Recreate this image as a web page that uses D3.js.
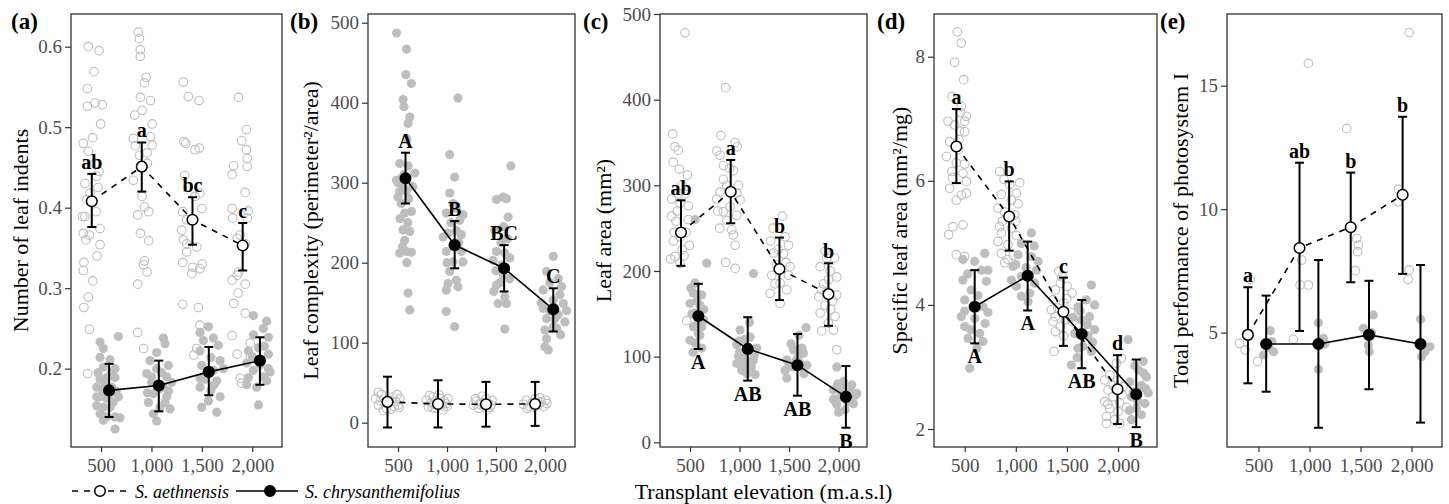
<!DOCTYPE html>
<html>
<head>
<meta charset="utf-8">
<script src="https://cdn.jsdelivr.net/npm/d3@7"></script>
<style>
  body { margin: 0; background: #fff; }
  svg text { font-family: "Liberation Serif", "Times New Roman", serif; }
</style>
</head>
<body>
<svg id="chart" width="1449" height="504"></svg>
<script>
// ---- data ----
var elevationTicks = [500, 1000, 1500, 2000];
var speciesNames = ["S. aethnensis", "S. chrysanthemifolius"];

// (a) number of leaf indents; points are [elevation, value], means are [elevation, mean, lower, upper]
var aAethPts = [
  [374,.600],[480,.595],[430,.569],[364,.548],[364,.526],[440,.530],[513,.528],[496,.504],[417,.487],[324,.480],[374,.470],[340,.430],[390,.418],[457,.439],[357,.410],[317,.389],[340,.389],[324,.368],[384,.366],[490,.374],[490,.354],[330,.332],[324,.322],[417,.309],[374,.289],[330,.276],[384,.249],[367,.194],[440,.455],[480,.445],[470,.425],[450,.395],[350,.360],[460,.340],
  [870,.618],[880,.610],[890,.596],[890,.588],[947,.562],[930,.555],[890,.537],[990,.533],[907,.521],[834,.515],[1007,.504],[820,.486],[990,.488],[1007,.478],[957,.468],[840,.477],[820,.434],[907,.414],[930,.401],[973,.395],[864,.391],[890,.368],[973,.359],[930,.334],[920,.329],[957,.320],[864,.305],[864,.245],[923,.225],[960,.455],[880,.465],
  [1316,.556],[1366,.538],[1472,.533],[1322,.482],[1340,.480],[1475,.474],[1432,.472],[1330,.440],[1366,.426],[1480,.418],[1432,.414],[1500,.399],[1310,.395],[1350,.385],[1300,.372],[1316,.360],[1450,.351],[1350,.355],[1350,.345],[1310,.332],[1410,.326],[1480,.324],[1400,.318],[1505,.330],[1310,.280],[1465,.276],[1480,.254],[1450,.225],[1420,.217],
  [1863,.537],[1942,.497],[1895,.483],[1942,.472],[1950,.461],[1950,.451],[1800,.441],[1815,.452],[1930,.419],[1800,.399],[1806,.387],[1960,.396],[1950,.387],[1880,.366],[1850,.362],[1930,.355],[1800,.310],[1850,.316],[1865,.320],[1930,.305],[1860,.294],[1815,.281],[1930,.269],[1800,.241],[1850,.218],[1980,.232],[1880,.188],[1895,.182],[1980,.215]
];
var aChrysPts = [
  [490,.233],[523,.225],[672,.240],[490,.214],[589,.211],[523,.202],[639,.200],[490,.187],[557,.189],[639,.189],[457,.177],[523,.173],[606,.177],[490,.165],[557,.163],[457,.154],[523,.152],[589,.152],[490,.144],[557,.140],[639,.140],[672,.165],[523,.136],[639,.125],[688,.139],[589,.169],[457,.165],[540,.181],[620,.158],[470,.195],[600,.195],[650,.172],
  [1118,.238],[1135,.231],[1052,.220],[986,.210],[1168,.204],[1052,.200],[953,.194],[1151,.190],[1002,.183],[1118,.178],[1200,.183],[1019,.169],[1151,.165],[970,.158],[1085,.152],[1185,.150],[1019,.144],[1052,.135],[1135,.158],[1085,.175],[1000,.190],[1100,.195],[960,.170],[1170,.172],
  [1565,.252],[1482,.245],[1615,.238],[1515,.235],[1664,.229],[1482,.222],[1590,.214],[1681,.210],[1498,.204],[1615,.198],[1530,.187],[1648,.185],[1482,.177],[1590,.173],[1681,.165],[1498,.152],[1648,.146],[1565,.160],[1482,.188],[1714,.200],[1550,.195],[1620,.180],
  [2143,.259],[2110,.250],[2011,.266],[2160,.239],[2011,.242],[2061,.226],[1962,.222],[2160,.218],[2044,.211],[1945,.207],[2160,.200],[2011,.198],[2110,.190],[1962,.189],[2143,.185],[2044,.177],[1945,.180],[2061,.155],[2177,.196],[2080,.205],[2000,.215],[2120,.228]
];
var aAethMean = [[408,.408,.376,.442],[904,.451,.420,.481],[1407,.385,.354,.413],[1905,.353,.322,.381]];
var aChrysMean = [[580,.173,.140,.206],[1073,.179,.147,.210],[1569,.196,.167,.227],[2076,.210,.180,.239]];
var aAethLetters = ["ab", "a", "bc", "c"];
var aChrysLetters = [];
var aTicksY = [0.2, 0.3, 0.4, 0.5, 0.6];

// (b) leaf complexity
var bAethPts = [
  [270,30],[300,22],[330,35],[360,25],[380,18],[410,28],[440,32],[460,20],[480,26],[500,22],[520,30],[300,38],[350,15],[430,17],[490,35],[400,24],[320,27],[510,19],
  [790,28],[810,20],[840,25],[860,32],[880,18],[900,24],[930,30],[950,21],[970,27],[990,24],[1010,30],[820,34],[870,23],[960,16],[1000,20],[920,35],[850,19],
  [1270,22],[1300,27],[1320,18],[1350,25],[1380,20],[1400,30],[1420,24],[1440,19],[1460,28],[1290,30],[1330,23],[1410,16],[1450,22],[1360,33],
  [1780,23],[1810,28],[1840,20],[1870,25],[1900,30],[1930,22],[1960,26],[1990,20],[2020,24],[1820,18],[1890,19],[1950,31],[2010,28]
];
var bChrysPts = [
  [484,487],[586,467],[580,435],[636,424],[551,404],[560,395],[620,382],[602,374],[590,355],[517,324],[602,321],[671,312],[484,303],[551,297],[517,289],[586,290],[500,282],[534,274],[636,264],[568,262],[551,241],[620,239],[568,228],[586,214],[517,212],[636,213],[602,162],[620,141],[500,300],[560,310],[530,305],[610,280],[650,295],[520,255],[600,250],[545,220],[590,200],
  [1112,406],[1027,335],[1078,307],[1027,287],[1061,274],[1095,268],[1163,260],[993,262],[1129,253],[1010,237],[1095,240],[960,232],[1146,235],[993,214],[1146,214],[1061,201],[1027,189],[1010,174],[1095,178],[1112,170],[993,166],[993,139],[1078,120],[1163,201],[1060,222],[1120,225],[1040,250],[1000,200],
  [1651,321],[1505,279],[1607,280],[1573,282],[1624,257],[1488,240],[1505,214],[1590,212],[1471,203],[1556,197],[1641,206],[1573,185],[1505,172],[1478,164],[1590,157],[1522,149],[1607,149],[1590,117],[1550,225],[1620,230],[1540,175],[1640,180],[1500,190],[1580,245],
  [2085,208],[2017,189],[2136,180],[1983,166],[2170,170],[2085,153],[2187,149],[1983,143],[2136,135],[2017,130],[2204,126],[2085,120],[2000,116],[2119,118],[2017,105],[2000,95],[2034,91],[2153,160],[2221,140],[2050,140],[2100,130],[1960,150],[2160,110],[2050,175]
];
var bAethMean = [[392,26,-6,57.5],[908,23.4,-6,53],[1398,23,-5,51],[1900,23.4,-4,51]];
var bChrysMean = [[576,305.5,274,337.5],[1078,222,193,252],[1583,193,164,222],[2085,141.7,114,168]];
var bAethLetters = [];
var bChrysLetters = ["A", "B", "BC", "C"];
var bTicksY = [0, 100, 200, 300, 400, 500];

// (c) leaf area
var cAethPts = [
  [449,478],[325,360],[348,345],[382,341],[331,327],[392,319],[473,312],[315,284],[399,279],[483,276],[315,264],[358,258],[483,260],[331,235],[493,230],[348,217],[399,209],[305,214],[440,218],[467,142],[420,300],[380,290],[460,245],[340,245],[420,225],[370,270],[450,290],[400,240],
  [859,414],[811,358],[955,350],[978,345],[770,340],[803,335],[837,323],[938,317],[837,307],[871,300],[972,291],[803,292],[770,284],[1005,283],[904,275],[837,269],[972,265],[871,259],[921,248],[938,242],[955,230],[955,203],[860,210],[800,250],[900,320],[990,300],[780,270],
  [1433,264],[1315,235],[1494,230],[1342,221],[1443,220],[1376,207],[1511,205],[1326,195],[1410,186],[1477,178],[1309,174],[1410,162],[1494,195],[1359,185],[1460,240],[1340,250],[1390,225],[1470,210],
  [1864,223],[1814,205],[1982,193],[1898,190],[1831,178],[1982,172],[1864,160],[1814,151],[1965,147],[1898,139],[1948,131],[1982,108],[1881,215],[1915,200],[1850,185],[1940,165],[1830,130],[1960,215],[1800,170],[1920,155]
];
var cChrysPts = [
  [551,186],[534,174],[618,172],[500,162],[601,160],[551,151],[635,143],[534,135],[584,127],[500,119],[551,116],[618,110],[668,209],[551,260],[580,140],[520,150],[600,125],[640,155],[510,180],[570,165],[620,135],[530,105],
  [1140,197],[1005,131],[1106,123],[972,114],[1073,108],[1174,110],[989,100],[1140,96],[1039,90],[972,92],[1073,80],[1157,79],[1022,84],[1100,140],[1050,120],[1000,105],[1120,88],[1040,100],[1080,95],[990,118],[1150,102],
  [1672,134],[1544,108],[1645,104],[1477,96],[1595,100],[1679,90],[1460,84],[1544,88],[1477,75],[1611,92],[1520,115],[1600,125],[1650,80],[1500,90],[1570,95],[1630,110],
  [1982,88],[2049,71],[2133,67],[1948,61],[2184,57],[2016,53],[2100,47],[1982,44],[2066,38],[2167,55],[1948,50],[2030,62],[2120,58],[1990,68],[2080,50],[2150,45],[2000,35],[2100,65]
];
var cAethMean = [[409,245,206,282.5],[911,292.5,255.7,329.6],[1403,202.3,166,239],[1898,173,136,209]];
var cChrysMean = [[584,147.4,109,185],[1083,109,72,146],[1585,90,54.4,126.4],[2074,53,17,89]];
var cAethLetters = ["ab", "a", "b", "b"];
var cChrysLetters = ["A", "AB", "AB", "B"];
var cTicksY = [0, 100, 200, 300, 400, 500];

// (d) specific leaf area
var dAethPts = [
  [428,8.40],[467,8.22],[402,7.91],[490,7.63],[376,7.36],[467,7.20],[516,7.04],[337,6.96],[500,6.96],[402,6.90],[450,6.80],[500,6.79],[353,6.63],[444,6.66],[321,6.39],[418,6.29],[500,6.27],[376,6.15],[483,6.12],[516,5.99],[353,5.88],[467,5.77],[418,5.69],[516,5.80],[385,5.26],[483,5.29],[343,5.13],[418,4.81],[500,4.78],[440,6.50],[380,6.05],[460,7.10],
  [842,6.15],[885,6.02],[1038,5.97],[940,5.94],[1006,5.80],[859,5.78],[957,5.69],[1022,5.63],[826,5.56],[891,5.50],[990,5.45],[842,5.26],[957,5.24],[859,5.16],[1006,5.12],[826,5.02],[924,4.97],[859,4.83],[924,4.73],[891,4.68],[973,4.80],[1000,5.35],[870,5.35],
  [1420,4.54],[1436,4.35],[1501,4.30],[1387,4.24],[1550,4.19],[1364,4.08],[1468,4.03],[1348,3.92],[1534,3.88],[1387,3.81],[1485,3.76],[1364,3.73],[1436,3.65],[1550,3.73],[1387,3.57],[1374,3.25],[1468,3.50],[1500,4.10],[1410,3.95],[1450,4.45],
  [2033,3.14],[1984,3.06],[1919,2.87],[1870,2.79],[2000,2.78],[2049,2.68],[1903,2.63],[1952,2.52],[1870,2.44],[2017,2.42],[1919,2.33],[2000,2.28],[1886,2.20],[1968,2.15],[1886,2.09],[2017,2.09],[2082,2.35],[1950,2.70],[1900,2.40],[2040,2.55]
];
var dChrysPts = [
  [696,4.83],[483,4.73],[598,4.70],[663,4.56],[483,4.40],[712,4.38],[565,4.24],[500,4.08],[679,3.97],[467,3.81],[598,3.78],[728,3.88],[500,3.65],[647,3.54],[533,3.46],[679,3.41],[549,2.98],[500,3.90],[631,4.15],[728,4.56],[560,3.60],[620,3.30],[700,3.70],[530,4.50],
  [1152,5.16],[1054,4.99],[1022,4.81],[1152,4.78],[973,4.62],[1201,4.56],[1054,4.46],[1185,4.35],[1006,4.30],[1136,4.19],[1054,4.14],[1218,4.70],[957,4.40],[1100,4.60],[1180,4.95],[1000,4.65],[1120,4.05],
  [1739,4.32],[1690,4.08],[1771,4.00],[1608,3.97],[1722,3.81],[1641,3.76],[1771,3.60],[1576,3.54],[1706,3.50],[1657,3.33],[1543,3.03],[1739,3.25],[1608,3.30],[1560,3.80],[1700,3.68],[1630,3.90],[1750,3.40],[1600,3.15],
  [2098,3.44],[2246,3.09],[2164,3.02],[2278,2.84],[2115,2.76],[2229,2.70],[2295,2.58],[2131,2.52],[2262,2.41],[2180,2.33],[2229,2.23],[2131,2.15],[2200,2.95],[2150,2.60],[2250,2.90],[2110,2.30],[2270,2.65],[2190,2.45]
];
var dAethMean = [[419,6.553,5.963,7.156],[935,5.424,4.875,5.99],[1466,3.89,3.34,4.44],[1995,2.64,2.08,3.19]];
var dChrysMean = [[598,3.97,3.38,4.56],[1116,4.47,3.91,5.02],[1645,3.53,2.98,4.08],[2178,2.56,2.03,3.12]];
var dAethLetters = ["a", "b", "c", "d"];
var dChrysLetters = ["A", "A", "AB", "B"];
var dTicksY = [2, 4, 6, 8];

// (e) total performance of photosystem I
var eAethPts = [
  [419,7.16],[314,4.57],[370,4.30],[490,3.83],
  [989,15.9],[924,7.94],[908,6.93],[989,6.93],[842,4.73],
  [1365,13.27],[1463,8.82],[1479,8.55],[1473,8.28],[1450,7.51],
  [1977,17.15],[1870,10.81],[1870,10.30],[1977,7.54],[1967,7.16]
];
var eChrysPts = [
  [614,5.08],[631,4.64],[647,4.23],[549,4.10],[598,4.40],
  [1087,5.40],[1136,4.77],[1152,4.55],[1087,3.52],
  [1625,5.72],[1527,5.18],[1576,4.50],[1586,4.23],[1608,5.00],
  [2089,5.54],[2180,4.43],[2131,4.23],[2099,4.03]
];
var eAethMean = [[396,4.91,2.95,6.84],[902,8.43,5.07,11.88],[1404,9.27,7.04,11.48],[1913,10.58,7.38,13.74]];
var eChrysMean = [[575,4.54,2.61,6.5],[1087,4.54,1.15,7.94],[1583,4.91,2.71,7.1],[2088,4.54,1.36,7.74]];
var eAethLetters = ["a", "ab", "b", "b"];
var eChrysLetters = [];
var eTicksY = [5, 10, 15];

// ---- panel layout ----
var panels = [
  { tag: "(a)", title: "Number of leaf indents", left: 71, right: 282, xDom: [202, 2295], yDom: [0.1027, 0.6406],
    ticks: aTicksY, fmt: d3.format(".1f"), aeth: aAethPts, chrys: aChrysPts, aethMean: aAethMean, chrysMean: aChrysMean,
    aethLet: aAethLetters, chrysLet: aChrysLetters, chrysBelow: false, titleX: 28, tagX: 11 },
  { tag: "(b)", title: "Leaf complexity (perimeter\u00b2/area)", left: 368, right: 575, xDom: [193, 2307], yDom: [-30.4, 510.9],
    ticks: bTicksY, fmt: d3.format("d"), aeth: bAethPts, chrys: bChrysPts, aethMean: bAethMean, chrysMean: bChrysMean,
    aethLet: bAethLetters, chrysLet: bChrysLetters, chrysBelow: false, titleX: 318, tagX: 290 },
  { tag: "(c)", title: "Leaf area (mm\u00b2)", left: 660, right: 867, xDom: [197, 2287], yDom: [-5.5, 500],
    ticks: cTicksY, fmt: d3.format("d"), aeth: cAethPts, chrys: cChrysPts, aethMean: cAethMean, chrysMean: cChrysMean,
    aethLet: cAethLetters, chrysLet: cChrysLetters, chrysBelow: true, titleX: 611, tagX: 583 },
  { tag: "(d)", title: "Specific leaf area (mm\u00b2/mg)", left: 934, right: 1157, xDom: [200, 2381], yDom: [1.71, 8.688],
    ticks: dTicksY, fmt: d3.format("d"), aeth: dAethPts, chrys: dChrysPts, aethMean: dAethMean, chrysMean: dChrysMean,
    aethLet: dAethLetters, chrysLet: dChrysLetters, chrysBelow: true, titleX: 907, tagX: 877 },
  { tag: "(e)", title: "Total performance of photosystem I", left: 1227, right: 1442, xDom: [191, 2299], yDom: [0.372, 17.9],
    ticks: eTicksY, fmt: d3.format("d"), aeth: eAethPts, chrys: eChrysPts, aethMean: eAethMean, chrysMean: eChrysMean,
    aethLet: eAethLetters, chrysLet: eChrysLetters, chrysBelow: false, titleX: 1188, tagX: 1160 }
];

var plotTop = 14, plotBottom = 447;
var grey = "#bebebe", tickGrey = "#4d4d4d";
var svg = d3.select("#chart");

panels.forEach(function(p) {
  var x = d3.scaleLinear().domain(p.xDom).range([p.left, p.right]);
  var y = d3.scaleLinear().domain(p.yDom).range([plotBottom, plotTop]);
  var g = svg.append("g");

  // axes
  var xAxis = d3.axisBottom(x).tickValues(elevationTicks).tickFormat(d3.format(",")).tickSize(5).tickPadding(7);
  var yAxis = d3.axisLeft(y).tickValues(p.ticks).tickFormat(p.fmt).tickSize(6).tickPadding(3);
  g.append("g").attr("transform", "translate(0," + plotBottom + ")").call(xAxis);
  g.append("g").attr("transform", "translate(" + p.left + ",0)").call(yAxis);
  g.selectAll(".domain").remove();
  g.selectAll(".tick line").attr("stroke", "#333").attr("stroke-width", 1.2);
  g.selectAll(".tick text").attr("fill", tickGrey).style("font-size", "19px")
    .style("font-family", "'Liberation Serif', 'Times New Roman', serif");

  // frame
  g.append("rect").attr("x", p.left).attr("y", plotTop)
    .attr("width", p.right - p.left).attr("height", plotBottom - plotTop)
    .attr("fill", "none").attr("stroke", "#333").attr("stroke-width", 1.3);

  // raw points
  g.append("g").selectAll("circle").data(p.aeth).enter().append("circle")
    .attr("cx", function(d) { return x(d[0]); })
    .attr("cy", function(d) { return y(d[1]); })
    .attr("r", 4.3).attr("fill", "none").attr("stroke", grey).attr("stroke-width", 1.1);
  g.append("g").selectAll("circle").data(p.chrys).enter().append("circle")
    .attr("cx", function(d) { return x(d[0]); })
    .attr("cy", function(d) { return y(d[1]); })
    .attr("r", 4.6).attr("fill", grey);

  // connecting lines
  var line = d3.line().x(function(d) { return x(d[0]); }).y(function(d) { return y(d[1]); });
  g.append("path").datum(p.aethMean).attr("d", line).attr("fill", "none")
    .attr("stroke", "#000").attr("stroke-width", 1.6).attr("stroke-dasharray", "6,6");
  g.append("path").datum(p.chrysMean).attr("d", line).attr("fill", "none")
    .attr("stroke", "#000").attr("stroke-width", 1.6);

  // error bars and means
  [[p.aethMean, "#fff"], [p.chrysMean, "#000"]].forEach(function(s) {
    var eb = g.append("g").selectAll("g").data(s[0]).enter().append("g");
    eb.append("line")
      .attr("x1", function(d) { return x(d[0]); }).attr("x2", function(d) { return x(d[0]); })
      .attr("y1", function(d) { return y(d[2]); }).attr("y2", function(d) { return y(d[3]); })
      .attr("stroke", "#000").attr("stroke-width", 2);
    [2, 3].forEach(function(k) {
      eb.append("line")
        .attr("x1", function(d) { return x(d[0]) - 4.5; }).attr("x2", function(d) { return x(d[0]) + 4.5; })
        .attr("y1", function(d) { return y(d[k]); }).attr("y2", function(d) { return y(d[k]); })
        .attr("stroke", "#000").attr("stroke-width", 2);
    });
    eb.append("circle")
      .attr("cx", function(d) { return x(d[0]); }).attr("cy", function(d) { return y(d[1]); })
      .attr("r", 5.3).attr("fill", s[1]).attr("stroke", "#000").attr("stroke-width", 1.5);
  });

  // significance letters
  g.append("g").selectAll("text").data(p.aethLet).enter().append("text")
    .attr("x", function(d, i) { return x(p.aethMean[i][0]); })
    .attr("y", function(d, i) { return y(p.aethMean[i][3]) - 5; })
    .attr("text-anchor", "middle").style("font-size", "20px").style("font-weight", "bold").text(function(d) { return d; });
  g.append("g").selectAll("text").data(p.chrysLet).enter().append("text")
    .attr("x", function(d, i) { return x(p.chrysMean[i][0]); })
    .attr("y", function(d, i) { return p.chrysBelow ? y(p.chrysMean[i][2]) + 20 : y(p.chrysMean[i][3]) - 5; })
    .attr("text-anchor", "middle").style("font-size", "20px").style("font-weight", "bold").text(function(d) { return d; });

  // y title and panel tag
  g.append("text").attr("transform", "translate(" + p.titleX + "," + ((plotTop + plotBottom) / 2) + ") rotate(-90)")
    .attr("text-anchor", "middle").style("font-size", "22px").text(p.title);
  g.append("text").attr("x", p.tagX).attr("y", 29)
    .style("font-size", "23px").style("font-weight", "bold").text(p.tag);
});

// shared x title, centred on panel (c)
svg.append("text").attr("x", (660 + 867) / 2).attr("y", 499).attr("text-anchor", "middle")
  .style("font-size", "22px").text("Transplant elevation (m.a.s.l)");

// legend
var legend = svg.append("g");
var keys = [
  { x1: 72, x2: 128, cx: 100, dash: "6,6", fill: "#fff", tx: 135 },
  { x1: 236, x2: 298, cx: 270, dash: null, fill: "#000", tx: 305 }
];
keys.forEach(function(k, i) {
  legend.append("line").attr("x1", k.x1).attr("x2", k.x2).attr("y1", 491).attr("y2", 491)
    .attr("stroke", "#000").attr("stroke-width", 1.6).attr("stroke-dasharray", k.dash);
  legend.append("circle").attr("cx", k.cx).attr("cy", 491).attr("r", 5.3)
    .attr("fill", k.fill).attr("stroke", "#000").attr("stroke-width", 1.5);
  legend.append("text").attr("x", k.tx).attr("y", 497.5).style("font-size", "18px")
    .style("font-style", "italic").text(speciesNames[i]);
});
</script>
</body>
</html>
